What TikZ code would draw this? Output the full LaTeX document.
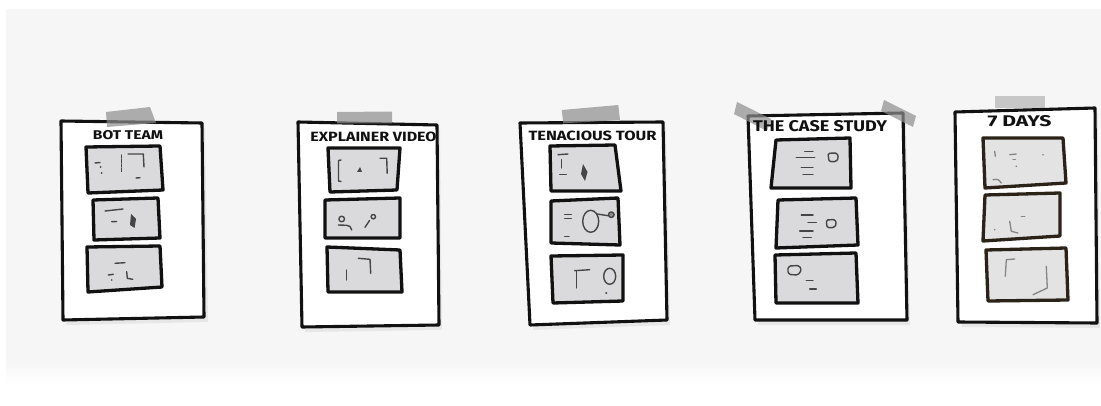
\documentclass[tikz,border=0pt]{standalone}
\usepackage{fontspec}
\setsansfont{Fira Sans}
\usepackage{graphicx}
\definecolor{paper}{HTML}{F6F6F6}
\definecolor{panelgrey}{HTML}{DADADC}
\definecolor{panelgreyb}{HTML}{E3E3E3}
\definecolor{ink}{HTML}{111111}
\definecolor{markdark}{HTML}{454545}
\definecolor{marklight}{HTML}{858585}
\definecolor{tapegrey}{HTML}{8E8E8E}
\tikzset{
  sheetbox/.style={draw=ink, line width=3.1pt, line join=round, fill=white},
  panelbox/.style={draw=ink, line width=3.3pt, line join=round, fill=panelgrey},
  panelboxb/.style={draw=ink!85!brown, line width=3.3pt, line join=round, fill=panelgreyb},
  sketch/.style={draw=markdark, line width=1.4pt, line cap=round, line join=round},
  sketchlight/.style={draw=marklight, line width=1.3pt, line cap=round, line join=round},
  tapestrip/.style={fill=tapegrey, opacity=0.7},
  sheetshadow/.style={fill=black, opacity=0.06},
  titletext/.style={font=\sffamily\bfseries, inner sep=0pt, text=ink}
}
\begin{document}
\begin{tikzpicture}[x=1pt,y=-1pt]
\useasboundingbox (0,0) rectangle (1101,406);
% paper background
\fill[white] (0,0) rectangle (1101,406);
\fill[paper] (6,9) rectangle (1101,362);
\shade[top color=paper, bottom color=white] (6,361.5) rectangle (1101,385);

% ---------------- sheet 1 : BOT TEAM ----------------
\fill[sheetshadow] (64,126) -- (205,128) -- (208,322) -- (66,325) -- cycle;
\path[sheetbox] (61,121) -- (202,123) -- (204,317) -- (63,320) -- cycle;
\fill[tapestrip] (106,112) -- (150,107) -- (156,123) -- (107,127) -- cycle;
\node[titletext] (t1) at (128,135) {\resizebox{70pt}{9pt}{BOT TEAM}};
\path[panelbox] (86,147) -- (160,146) -- (163,190) -- (88,193) -- cycle;
\path[panelbox] (93,200) -- (158,198) -- (160,238) -- (94,240) -- cycle;
\path[panelbox] (87,247) -- (160,246) -- (162,287) -- (88,292) -- cycle;
\draw[sketch] (95,163) -- (100,162.5);
\fill[markdark] (100.7,167) circle (1pt) (101.7,173) circle (1pt);
\draw[sketch, dash pattern=on 3pt off 1.5pt] (121.7,155) -- (121.7,173);
\draw[sketch] (128,154) -- (143.3,154) -- (144,167);
\draw[sketch] (136,178) -- (140,177.7);
\draw[sketch] (105,211) -- (123,209);
\draw[sketch] (111.7,221.7) -- (116.7,221.5);
\fill[markdark] (131,214) -- (136,219) -- (134.5,228) -- (130,225) -- cycle;
\draw[sketch] (115,263.3) -- (125,262.7);
\draw[sketch] (108.3,275) -- (113.3,274.3);
\fill[markdark] (111.7,280) circle (0.9pt);
\draw[sketch] (126.7,271.7) -- (127.3,278.3) -- (132.7,279.3);

% ---------------- sheet 2 : EXPLAINER VIDEO ----------------
\fill[sheetshadow] (301,127) -- (440,130) -- (442,330) -- (305,332) -- cycle;
\path[sheetbox] (298,122) -- (437,125) -- (439,325) -- (302,327) -- cycle;
\fill[tapestrip] (337,112) -- (392,111.5) -- (392,123.5) -- (337,123.5) -- cycle;
\node[titletext] (t2) at (373.5,137) {\resizebox{126pt}{9.5pt}{EXPLAINER VIDEO}};
\path[panelbox] (328,148) -- (400,148) -- (397,190) -- (330,192) -- cycle;
\path[panelbox] (325,200) -- (400,198) -- (400,238) -- (325,238) -- cycle;
\path[panelbox] (327,247) -- (400,250) -- (402,292) -- (328,292) -- cycle;
\draw[sketch] (341,160) -- (338.5,160.5) -- (338.5,181) -- (341,181.5);
\fill[markdark] (357,172) -- (360,167) -- (362,172) -- cycle;
\draw[sketch] (380,158.3) -- (386.7,158.3) -- (387.2,173.3);
\draw[sketch] (341.7,219) circle (2.8pt);
\draw[sketch] (338.3,225) -- (346.7,225.3) .. controls (350,226) .. (351.7,230);
\draw[sketch] (365,227.3) -- (369.5,220.5);
\draw[sketch] (373.3,216.7) circle (2.2pt);
\draw[sketch] (346.7,270) -- (346.7,280);
\draw[sketch] (358.3,258.3) -- (370,259.3) -- (370.7,273.3);

% ---------------- sheet 3 : TENACIOUS TOUR ----------------
\fill[sheetshadow] (523,128) -- (666,127) -- (670,325) -- (533,330) -- cycle;
\path[sheetbox] (520,123) -- (663,122) -- (667,320) -- (530,325) -- cycle;
\fill[tapestrip] (561.7,110) -- (618.3,105) -- (620,120) -- (563.3,123.3) -- cycle;
\node[titletext] (t3) at (592.5,135.5) {\resizebox{128pt}{9.5pt}{TENACIOUS TOUR}};
\path[panelbox] (550,146) -- (615,145) -- (621,191) -- (551,191) -- cycle;
\path[panelbox] (551,201) -- (618,198) -- (620,245) -- (551,243) -- cycle;
\path[panelbox] (551,256) -- (623,255) -- (623,301) -- (553,303) -- cycle;
\draw[sketch] (558,154.7) -- (568,154);
\draw[sketch] (561.3,159.7) -- (561.3,168);
\draw[sketch] (559.7,174.7) -- (566.3,174.7);
\fill[markdark] (583,164) -- (587.5,172) -- (585,181) -- (581,174) -- cycle;
\draw[sketch] (564.7,214.7) -- (571.3,214.7) (564.7,218.7) -- (571.3,218.7);
\draw[sketch] (564.7,236.3) -- (569,236.3);
\draw[sketch] (590.7,221.3) ellipse [x radius=8pt, y radius=11pt];
\draw[sketch] (597,214) -- (608.8,215.8);
\draw[sketch, fill=markdark!60] (611.3,214.7) circle (2.8pt);
\draw[sketch] (574.7,270.7) -- (589.7,269.7);
\draw[sketch] (576.3,271.3) -- (576.3,288);
\draw[sketch] (609.7,276.3) ellipse [x radius=6pt, y radius=8pt];
\fill[markdark] (606.3,293) circle (1.1pt);

% ---------------- sheet 4 : THE CASE STUDY ----------------
\fill[sheetshadow] (751,121) -- (906,118) -- (910,325) -- (758,325) -- cycle;
\path[sheetbox] (748,116) -- (903,113) -- (907,320) -- (755,320) -- cycle;
\fill[tapestrip] (737,102) -- (771,119) -- (767,131) -- (734,114) -- cycle;
\fill[tapestrip] (884,100) -- (916,116) -- (913,127) -- (881,111) -- cycle;
\node[titletext] (t4) at (820,126) {\resizebox{134pt}{11pt}{THE CASE STUDY}};
\path[panelbox] (776,140) -- (850,138) -- (851,188) -- (771,188) -- cycle;
\path[panelbox] (778,200) -- (856,198) -- (858,245) -- (776,248) -- cycle;
\path[panelbox] (775,255) -- (856,253) -- (858,303) -- (776,303) -- cycle;
\draw[sketch] (804.7,151.7) -- (813,151.7) (796.3,157.7) -- (814.7,157.7)
              (801.3,167.3) -- (813,167.3) (803,174.3) -- (813,174.3);
\draw[sketch, rounded corners=1.5pt] (828,153.3) -- (837,153) -- (838.5,158) -- (836,161.7) -- (829,161.5) -- cycle;
\draw[sketch] (801.3,215) -- (813,215) (808,222.3) -- (816.3,222.3)
              (799.7,231) -- (813,231) (803,237.7) -- (811.3,237.7);
\draw[sketch, rounded corners=1.5pt] (826.3,220) -- (835,219.5) -- (836.5,224) -- (834,227.7) -- (827,227.5) -- cycle;
\draw[sketch, rounded corners=1.5pt] (789,266) -- (799,265.5) -- (801.5,270) -- (798,275) -- (789,274.5) -- (787.5,270) -- cycle;
\draw[sketch] (806.3,280.7) -- (813,280.7) (809.7,289) -- (816.3,289);

% ---------------- sheet 5 : 7 DAYS ----------------
\fill[sheetshadow] (958,117) -- (1098,113) -- (1100,328) -- (962,327) -- cycle;
\path[sheetbox] (955,112) -- (1095,108) -- (1097,323) -- (958,322) -- cycle;
\fill[tapestrip, opacity=0.45] (995,96.5) -- (1045,96.5) -- (1045,108.5) -- (995,108.5) -- cycle;
\node[titletext] (t5) at (1019.5,121) {\resizebox{64pt}{11pt}{7 DAYS}};
\path[panelboxb] (983,138) -- (1063,138) -- (1066,183) -- (985,188) -- cycle;
\path[panelboxb] (985,195) -- (1060,193) -- (1060,236) -- (983,241) -- cycle;
\path[panelboxb] (986,250) -- (1066,248) -- (1068,300) -- (988,301) -- cycle;
\draw[sketchlight] (994.7,151.3) -- (995.3,156.3);
\draw[sketchlight] (1009.7,154.7) -- (1016.3,154);
\draw[sketchlight] (1013,159.7) -- (1015.3,159.7);
\fill[marklight] (1016.3,166.3) circle (0.9pt) (1043,154.7) circle (0.9pt);
\draw[sketchlight] (993,179.7) .. controls (998,179) .. (1001.3,183);
\draw[sketchlight] (1021.3,216.3) -- (1024.7,216.3);
\draw[sketchlight] (1009.7,221.3) -- (1011.3,231.3) -- (1018,233);
\fill[marklight] (994.7,229.7) circle (0.9pt);
\draw[sketchlight] (1014.7,259) -- (1006.3,259.7) -- (1005.3,276.3);
\draw[sketchlight] (1046.3,266.3) -- (1047.3,288) -- (1033,294.7);
\end{tikzpicture}
\end{document}
